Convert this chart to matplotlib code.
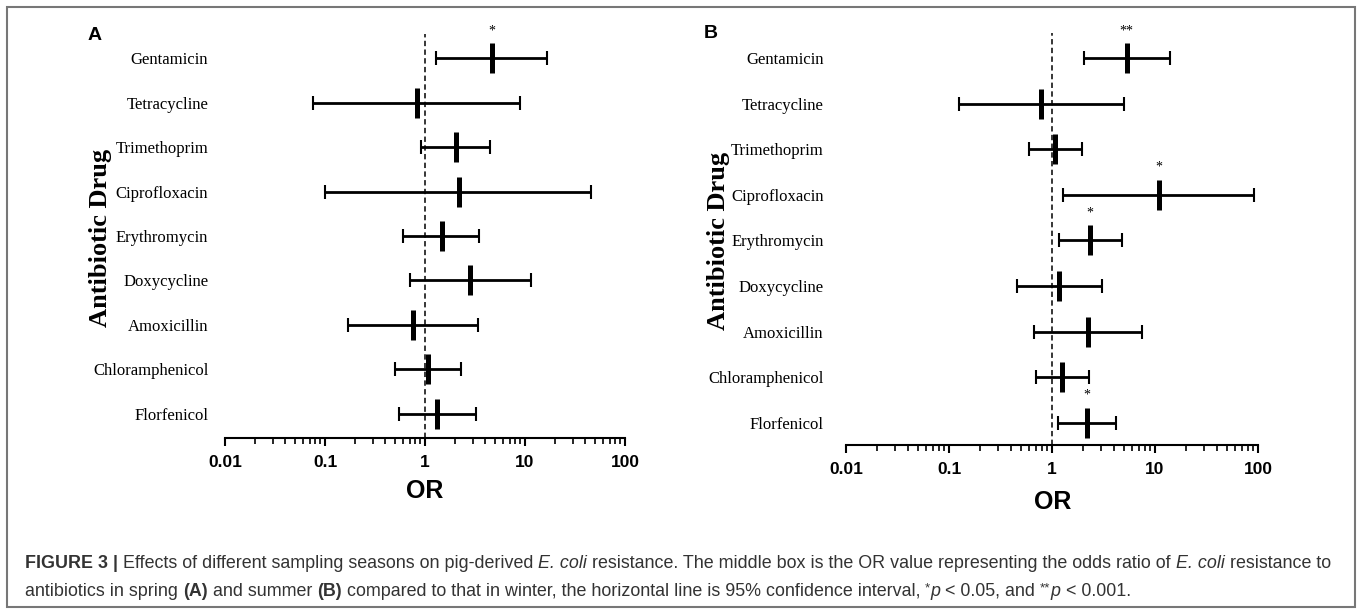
import matplotlib
matplotlib.use("Agg")
import matplotlib.pyplot as plt
from matplotlib.patches import Rectangle
from matplotlib.ticker import FixedLocator, FixedFormatter, NullFormatter
import numpy as np

# ---------------- data ----------------
drugs = ["Gentamicin", "Tetracycline", "Trimethoprim", "Ciprofloxacin",
         "Erythromycin", "Doxycycline", "Amoxicillin", "Chloramphenicol",
         "Florfenicol"]

# Panel A: spring vs winter
or_spring = [4.7, 0.83, 2.05, 2.2, 1.48, 2.85, 0.76, 1.07, 1.31]
lo_spring = [1.30, 0.076, 0.92, 0.10, 0.60, 0.70, 0.17, 0.50, 0.55]
hi_spring = [16.6, 8.9, 4.5, 46, 3.5, 11.5, 3.4, 2.3, 3.2]
sig_spring = ["*", "", "", "", "", "", "", "", ""]

# Panel B: summer vs winter
or_summer = [5.3, 0.79, 1.07, 10.9, 2.35, 1.18, 2.22, 1.25, 2.18]
lo_summer = [2.03, 0.124, 0.60, 1.29, 1.16, 0.46, 0.67, 0.70, 1.14]
hi_summer = [14.0, 5.0, 1.94, 92, 4.8, 3.05, 7.4, 2.28, 4.2]
sig_summer = ["**", "", "", "*", "*", "", "", "", "*"]

tick_vals = [0.01, 0.1, 1, 10, 100]
tick_labels = ["0.01", "0.1", "1", "10", "100"]
minor_vals = [k * 10.0 ** e for e in range(-2, 2) for k in range(2, 10)]

panel_letters = ["A", "B"]
ylab = "Antibiotic Drug"
xlab = "OR"

SERIF = ["Liberation Serif", "DejaVu Serif"]
SANS = ["Liberation Sans", "DejaVu Sans"]

W, H = 1362, 610
fig = plt.figure(figsize=(W / 100, H / 100), dpi=100)
fig.patch.set_facecolor("white")


def px_axes(left, top, right, bottom):
    return fig.add_axes([left / W, 1 - bottom / H, (right - left) / W, (bottom - top) / H])


def draw_panel(ax, ors, los, his, sigs, ylim, ypad):
    y = np.arange(len(drugs))
    ors_a = np.array(ors)
    xerr = [ors_a - np.array(los), np.array(his) - ors_a]
    ax.set_xscale("log")
    ax.axvline(1, color="black", lw=1.1, ls=(0, (3.5, 2.2)), zorder=1)
    ax.errorbar(ors, y, xerr=xerr, fmt="none", ecolor="black",
                elinewidth=2.0, capsize=4.7, capthick=1.5, zorder=3)
    ax.plot(ors, y, linestyle="none", marker="|", markersize=21,
            markeredgewidth=3.6, color="black", zorder=4)
    for xi, yi, s in zip(ors, y, sigs):
        if s:
            ax.text(xi, yi - 0.6, s, ha="center", va="center", fontsize=10,
                    family=SERIF, clip_on=False)
    ax.set_xlim(tick_vals[0], tick_vals[-1])
    ax.set_ylim(*ylim)
    ax.xaxis.set_major_locator(FixedLocator(tick_vals))
    ax.xaxis.set_major_formatter(FixedFormatter(tick_labels))
    ax.xaxis.set_minor_locator(FixedLocator(minor_vals))
    ax.xaxis.set_minor_formatter(NullFormatter())
    ax.tick_params(axis="x", which="major", length=6, width=1.5, direction="out",
                   pad=6, labelsize=12.5)
    ax.tick_params(axis="x", which="minor", length=4, width=1.2, direction="out")
    for lbl in ax.get_xticklabels():
        lbl.set_fontweight("bold")
        lbl.set_family(SANS)
    ax.set_yticks(y)
    ax.set_yticklabels(drugs, family=SERIF, fontsize=12)
    ax.tick_params(axis="y", length=0, pad=ypad)
    for sp in ("left", "top", "right"):
        ax.spines[sp].set_visible(False)
    ax.spines["bottom"].set_linewidth(1.5)
    ax.patch.set_alpha(0)


axA = px_axes(225, 34, 625, 438)
draw_panel(axA, or_spring, lo_spring, hi_spring, sig_spring, (8.54, -0.54), 12)
axB = px_axes(846, 33, 1258, 445)
draw_panel(axB, or_summer, lo_summer, hi_summer, sig_summer, (8.49, -0.55), 16)


def ftext(x, y, s, **kw):
    return fig.text(x / W, 1 - y / H, s, **kw)


# panel letters
ftext(95, 35, panel_letters[0], fontsize=14, fontweight="bold", family=SANS, ha="center", va="center")
ftext(711, 34, panel_letters[1], fontsize=14, fontweight="bold", family=SANS, ha="center", va="center")

# y labels
ftext(101, 238, ylab, rotation=90, fontsize=19, fontweight="bold", family=SERIF, ha="center", va="center")
ftext(718, 241, ylab, rotation=90, fontsize=19, fontweight="bold", family=SERIF, ha="center", va="center")

# x labels
ftext(425, 491, xlab, fontsize=18, fontweight="bold", family=SANS, ha="center", va="center")
ftext(1053, 502, xlab, fontsize=18, fontweight="bold", family=SANS, ha="center", va="center")

# frame
fig.add_artist(Rectangle((7 / W, 1 - 607 / H), (1355 - 7) / W, (607 - 7) / H,
                         transform=fig.transFigure, fill=False,
                         edgecolor="#777777", lw=1.5))

# caption
cap_col = "#333333"
cap_size = 12.9
renderer = fig.canvas.get_renderer()


def rich_line(x0, base, pieces):
    x = x0
    for txt, style in pieces:
        kw = dict(fontsize=cap_size, family=SANS, color=cap_col)
        dy = 0
        if style == "b":
            kw["fontweight"] = "bold"
        elif style == "i":
            kw["fontstyle"] = "italic"
        elif style == "sup":
            kw["fontsize"] = cap_size * 0.75
            dy = 5
        fig.text(x / W, 1 - (base - dy) / H, txt, ha="left", va="baseline", **kw)
        p1 = fig.text(0, 0, "X" + txt + "X", **kw)
        p2 = fig.text(0, 0, "XX", **kw)
        w = p1.get_window_extent(renderer).width - p2.get_window_extent(renderer).width
        p1.remove()
        p2.remove()
        x += w


line1 = [("FIGURE 3 | ", "b"),
         ("Effects of different sampling seasons on pig-derived ", "n"),
         ("E. coli", "i"),
         (" resistance. The middle box is the OR value representing the odds ratio of ", "n"),
         ("E. coli", "i"),
         (" resistance to", "n")]
line2 = [("antibiotics in spring ", "n"), ("(A)", "b"), (" and summer ", "n"),
         ("(B)", "b"),
         (" compared to that in winter, the horizontal line is 95% confidence interval, ", "n"),
         ("*", "sup"), ("p", "i"), (" < 0.05, and ", "n"),
         ("**", "sup"), ("p", "i"), (" < 0.001.", "n")]
rich_line(25, 568, line1)
rich_line(25, 596, line2)

fig.savefig("out.png", dpi=100, facecolor="white")
